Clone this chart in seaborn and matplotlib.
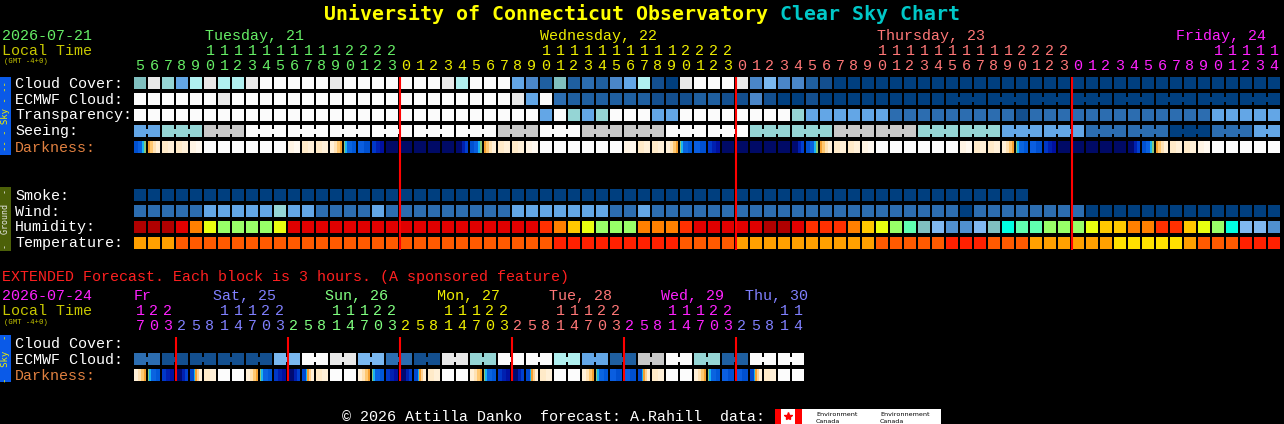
import numpy as np
import matplotlib.pyplot as plt
import seaborn as sns

# ----- Chart data ----- #

# local hour of every column of the hourly chart (Tue 21 05h .. Fri 24 14h)
hours_main = [5, 6, 7, 8, 9, 10, 11, 12, 13, 14, 15, 16, 17, 18, 19, 20, 21, 22, 23,
              0, 1, 2, 3, 4, 5, 6, 7, 8, 9, 10, 11, 12, 13, 14, 15, 16, 17, 18, 19, 20, 21, 22, 23,
              0, 1, 2, 3, 4, 5, 6, 7, 8, 9, 10, 11, 12, 13, 14, 15, 16, 17, 18, 19, 20, 21, 22, 23,
              0, 1, 2, 3, 4, 5, 6, 7, 8, 9, 10, 11, 12, 13, 14]
days_main = ['Tuesday, 21', 'Wednesday, 22', 'Thursday, 23', 'Friday, 24']
days_main_x = [205, 540, 877, 1176]

# local hour of every 3-hour block of the extended chart (Fri 24 17h .. Thu 30 14h)
hours_ext = [17, 20, 23,
             2, 5, 8, 11, 14, 17, 20, 23,
             2, 5, 8, 11, 14, 17, 20, 23,
             2, 5, 8, 11, 14, 17, 20, 23,
             2, 5, 8, 11, 14, 17, 20, 23,
             2, 5, 8, 11, 14, 17, 20, 23,
             2, 5, 8, 11, 14]
days_ext = ['Fr', 'Sat, 25', 'Sun, 26', 'Mon, 27', 'Tue, 28', 'Wed, 29', 'Thu, 30']
days_ext_x = [134, 213, 325, 437, 549, 661, 745]

# sky rows: index into sky_palette
cloud_cover = [7, 10, 8, 5, 9, 10, 9, 9, 10, 11,
               11, 11, 11, 11, 10, 11, 11, 11, 11, 11,
               11, 11, 10, 9, 11, 11, 11, 5, 4, 2,
               7, 2, 3, 2, 4, 5, 9, 1, 0, 10,
               11, 11, 11, 10, 4, 6, 4, 4, 2, 1,
               0, 0, 0, 0, 0, 0, 0, 0, 0, 0,
               0, 0, 0, 0, 0, 0, 0, 0, 0, 0,
               0, 0, 0, 0, 0, 0, 0, 0, 0, 0,
               0, 0]
ecmwf_cloud = [11, 11, 11, 11, 11, 11, 10, 11, 11, 11,
               11, 11, 11, 11, 11, 11, 11, 11, 11, 11,
               11, 11, 11, 11, 11, 11, 11, 10, 5, 11,
               3, 2, 2, 2, 2, 2, 2, 1, 1, 1,
               2, 2, 1, 1, 4, 1, 0, 0, 1, 0,
               0, 0, 0, 0, 0, 0, 0, 0, 0, 0,
               0, 0, 0, 0, 0, 0, 0, 0, 0, 0,
               0, 0, 0, 0, 0, 0, 0, 0, 0, 0,
               0, 0]
transparency = [11, 11, 11, 11, 11, 11, 11, 11, 11, 11,
                11, 11, 11, 11, 11, 11, 11, 11, 11, 11,
                11, 11, 11, 11, 11, 11, 11, 11, 11, 5,
                11, 8, 5, 8, 11, 11, 11, 5, 5, 11,
                11, 11, 11, 11, 11, 11, 11, 8, 5, 5,
                5, 5, 5, 5, 3, 3, 3, 3, 3, 3,
                3, 3, 3, 1, 3, 3, 3, 3, 3, 3,
                3, 3, 3, 3, 3, 3, 3, 5, 5, 5,
                5, 5]
seeing = [5, 5, 8, 8, 8, 12, 12, 12, 11, 11,
          11, 11, 11, 11, 11, 11, 11, 11, 11, 11,
          11, 11, 11, 11, 11, 11, 12, 12, 12, 11,
          11, 11, 12, 12, 12, 12, 12, 12, 11, 11,
          11, 11, 11, 11, 8, 8, 8, 8, 8, 8,
          12, 12, 12, 12, 12, 12, 8, 8, 8, 8,
          8, 8, 5, 5, 5, 5, 5, 5, 3, 3,
          3, 3, 3, 3, 0, 0, 0, 3, 3, 3,
          5, 5]
# darkness: one code per block (see dark_style)
darkness = ("ROccfWWWWWWfccoSbmnnnnnN"
            "ROccfWWWWWWfccoSbmnnnnnN"
            "ROccfWWWWWWfccoSbmnnnnnN"
            "ROccfWWWWW")

# ground rows
smoke = [0, 0, 0, 0, 0, 0, 0, 0, 0, 0,
         0, 0, 0, 0, 0, 0, 0, 0, 0, 0,
         0, 0, 0, 0, 0, 0, 0, 0, 0, 0,
         0, 0, 0, 0, 0, 0, 0, 0, 0, 0,
         0, 0, 0, 0, 0, 0, 0, 0, 0, 0,
         0, 0, 0, 0, 0, 0, 0, 0, 0, 0,
         0, 0, 0, 0]
wind = [3, 3, 3, 3, 3, 5, 5, 5, 5, 5,
        8, 5, 5, 3, 3, 3, 3, 5, 3, 3,
        3, 3, 3, 3, 3, 3, 3, 5, 5, 5,
        5, 5, 5, 5, 3, 3, 5, 3, 3, 3,
        3, 3, 3, 3, 3, 3, 3, 3, 3, 3,
        3, 3, 3, 3, 3, 3, 3, 3, 3, 0,
        3, 3, 3, 3, 3, 3, 3, 3, 0, 0,
        0, 0, 0, 0, 0, 0, 0, 0, 0, 0,
        0, 0]
humidity = [11, 11, 11, 10, 8, 6, 5, 5, 5, 5,
            6, 10, 10, 10, 10, 10, 10, 10, 10, 10,
            10, 10, 10, 10, 10, 10, 10, 10, 10, 9,
            8, 7, 6, 5, 5, 5, 8, 8, 8, 9,
            10, 10, 10, 10, 10, 11, 11, 10, 9, 9,
            9, 8, 7, 6, 5, 4, 2, 1, 0, 0,
            1, 2, 3, 4, 4, 5, 5, 5, 6, 7,
            7, 8, 8, 9, 9, 7, 6, 5, 3, 1,
            1, 0]
temperature = [1, 1, 1, 2, 2, 2, 2, 2, 2, 2,
               2, 2, 2, 2, 2, 2, 2, 2, 2, 2,
               2, 2, 2, 2, 2, 2, 2, 2, 2, 2,
               3, 3, 3, 3, 3, 3, 3, 3, 3, 2,
               2, 2, 2, 1, 1, 1, 1, 1, 1, 1,
               1, 1, 1, 2, 2, 2, 2, 2, 3, 3,
               3, 2, 2, 2, 1, 1, 1, 1, 1, 1,
               0, 0, 0, 0, 0, 1, 2, 2, 2, 3,
               3, 3]

# extended rows (cloud cover row is empty in the picture)
ext_ecmwf = [3, 3, 1, 1, 1, 1, 1, 1, 1, 1, 6, 6, 11, 11, 10, 10,
             6, 6, 3, 3, 1, 1, 10, 10, 8, 8, 11, 11, 11, 11, 9, 9,
             5, 5, 2, 2, 12, 12, 11, 11, 8, 8, 2, 2, 11, 11, 11, 11]
ext_darkness = ("oSmNDcWW" "oSmNDcWW" "oSmNDcWW"
                "oSmNDcWW" "oSbbDcWW" "oSbbDcWW")

# ----- Palettes ----- #
sky_palette = sns.color_palette(['#003f7f', '#134f8f', '#1f5fa0', '#2c6db0', '#4a86c8',
                                 '#63a6e6', '#7ab8f0', '#80c0c0', '#95d5d5', '#b0f0f0',
                                 '#e9e9e9', '#fbfbfb', '#c8c8c8'])
hum_palette = sns.color_palette(['#5090d0', '#80b8f0', '#80c0c0', '#00ffe0', '#60ffb0',
                                 '#98ff68', '#e8ff10', '#ffc800', '#ff8000', '#ff3000',
                                 '#e00000', '#b00000'])
temp_palette = sns.color_palette(['#ffe000', '#ffa000', '#ff5a00', '#ff2000'])

# each darkness code as thin vertical stripes (colour, width px), 12 px per block
dark_style = {
    'W': [('#fcfcfc', 12)],
    'f': [('#fff4e4', 6), ('#fff9f0', 6)],
    'c': [('#ffeac8', 6), ('#fff0d8', 6)],
    'o': [('#fff0d8', 4), ('#ffe2b4', 3), ('#ffc870', 3), ('#f5a030', 2)],
    'O': [('#f5a030', 2), ('#ffc870', 3), ('#ffe2b4', 3), ('#fff0d8', 4)],
    'S': [('#88c878', 1), ('#18b4f0', 2), ('#0a64e0', 5), ('#0058d8', 4)],
    'R': [('#0050d0', 4), ('#0a60e0', 4), ('#18b4f0', 2), ('#88c878', 2)],
    'b': [('#0a5ee0', 6), ('#0050d0', 6)],
    'm': [('#0038c8', 4), ('#0020b0', 4), ('#0010a0', 4)],
    'n': [('#000a66', 12)],
    'N': [('#000a70', 6), ('#0020b0', 3), ('#0040d0', 3)],
    'D': [('#0048d0', 4), ('#18b4f0', 1), ('#f5a030', 2), ('#ffd090', 2), ('#fff0d8', 3)],
}

main_day_colors = ['#66ee66', '#eeee00', '#ff7777', '#ff22ff']
ext_day_colors = ['#ff22ff', '#8080ff', '#80ff80', '#eeee00', '#ff7777', '#ff22ff', '#8080ff']

# ----- Layout (pixels) ----- #
X0, STEP, BLOCK = 134, 14, 12
MONO = 'Liberation Mono'
LBL = 10.8

sns.set_theme(style="dark", rc={'figure.facecolor': 'black', 'axes.facecolor': 'black'})
plt.rcParams['font.family'] = [MONO, 'DejaVu Sans']

fig = plt.figure(figsize=(12.84, 4.24), dpi=100)
ax = fig.add_axes([0, 0, 1, 1])
ax.set_xlim(0, 1284)
ax.set_ylim(424, 0)
ax.axis('off')


def txt(x, y, s, color, size=LBL, **kw):
    ax.text(x, y, s, color=color, fontsize=size, va='baseline', family=[MONO, 'DejaVu Sans'], **kw)


def day_index(hours):
    idx, d = [], 0
    for i, h in enumerate(hours):
        if i > 0 and h < hours[i - 1]:
            d += 1
        idx.append(d)
    return np.array(idx)


def draw_blocks(values, palette, top, groups=None):
    xs = X0 + STEP * np.arange(len(values))
    colors = [palette[v] for v in values]
    ax.bar(xs, BLOCK, width=BLOCK, bottom=top, align='edge', color=colors,
           linewidth=0, antialiased=False)
    if groups is not None:
        for k in range(len(values) - 1):
            if groups[k] is not None and groups[k] == groups[k + 1]:
                ax.bar(xs[k] + BLOCK, 5, width=STEP - BLOCK, bottom=top + 3.5, align='edge',
                       color=colors[k], linewidth=0, antialiased=False)


def draw_darkness(codes, top):
    lefts, widths, colors = [], [], []
    for k, code in enumerate(codes):
        x = X0 + STEP * k
        for color, w in dark_style[code]:
            lefts.append(x)
            widths.append(w)
            colors.append(color)
            x += w
    ax.bar(lefts, BLOCK, width=widths, bottom=top, align='edge', color=colors,
           linewidth=0, antialiased=False)


def hour_labels(hours, days, colors, y_tens, y_units):
    for k, h in enumerate(hours):
        xc = X0 + STEP * k + 6
        c = colors[days[k]]
        if h >= 10:
            txt(xc, y_tens, str(h // 10), c, ha='center')
        txt(xc, y_units, str(h % 10), c, ha='center')


def side_bar(top, bottom, color, label, text_color, size):
    ax.bar(0, bottom - top, width=11, bottom=top, align='edge', color=color, linewidth=0)
    ax.text(5.5, (top + bottom) / 2, label, color=text_color, fontsize=size, rotation=90,
            ha='center', va='center', family='DejaVu Sans Mono')


# ----- Title ----- #
ax.text(324, 19.5, 'University of Connecticut Observatory', color='#ffff00', fontsize=14.3,
        fontweight='bold', va='baseline', family='DejaVu Sans Mono')
ax.text(780, 19.5, 'Clear Sky Chart', color='#00c8c8', fontsize=14.3,
        fontweight='bold', va='baseline', family='DejaVu Sans Mono')

# ----- Hourly chart header ----- #
day_main = day_index(hours_main)
txt(2, 40, '2026-07-21', main_day_colors[0])
txt(2, 55, 'Local Time', '#c8c800')
txt(4, 63, '(GMT -4+0)', '#c8c800', size=5.2)
for name, x, c in zip(days_main, days_main_x, main_day_colors):
    txt(x, 40, name, c)
hour_labels(hours_main, day_main, main_day_colors, 55, 70)

# ----- Sky rows ----- #
abs_main = day_main * 24 + np.array(hours_main)
seeing_groups = list((abs_main - 1) // 3)
ecmwf_groups = [g if k >= 58 else None for k, g in enumerate(abs_main // 3)]

sky_tops = [77, 93, 109, 125, 141]
draw_blocks(cloud_cover, sky_palette, sky_tops[0])
draw_blocks(ecmwf_cloud, sky_palette, sky_tops[1], ecmwf_groups)
draw_blocks(transparency, sky_palette, sky_tops[2])
draw_blocks(seeing, sky_palette, sky_tops[3], seeing_groups)
draw_darkness(darkness, sky_tops[4])

for lab, top in zip(['Cloud Cover:', 'ECMWF Cloud:', 'Transparency:', 'Seeing:'], sky_tops):
    txt(15, top + 10.5, lab, 'white')
txt(15, sky_tops[4] + 10.5, 'Darkness:', '#e08040')
side_bar(77, 155, '#0a5ae8', '-- - Sky - --', '#f0f000', 6.5)

# ----- Ground rows ----- #
ground_tops = [189, 205, 221, 237]
draw_blocks(smoke, sky_palette, ground_tops[0])
draw_blocks(wind, sky_palette, ground_tops[1])
draw_blocks(humidity, hum_palette, ground_tops[2])
draw_blocks(temperature, temp_palette, ground_tops[3])
for lab, top in zip(['Smoke:', 'Wind:', 'Humidity:', 'Temperature:'], ground_tops):
    txt(15, top + 10.5, lab, 'white')
side_bar(187, 251, '#4c6008', '-  Ground  -', '#e8e8e8', 6)

# midnight markers
new_day = [X0 + STEP * k for k in range(1, len(hours_main)) if day_main[k] != day_main[k - 1]]
ax.vlines(new_day, 77, 250, color='#ff0000', linewidth=1.5)

# ----- Extended forecast ----- #
day_ext = day_index(hours_ext)
txt(2, 281, 'EXTENDED Forecast. Each block is 3 hours. (A sponsored feature)', '#ff2020')
txt(2, 300, '2026-07-24', ext_day_colors[0])
txt(2, 315, 'Local Time', '#c8c800')
txt(4, 324.5, '(GMT -4+0)', '#c8c800', size=5.2)
for name, x, c in zip(days_ext, days_ext_x, ext_day_colors):
    txt(x, 300, name, c)
hour_labels(hours_ext, day_ext, ext_day_colors, 315, 330)

ext_tops = [337, 353, 369]
draw_blocks(ext_ecmwf, sky_palette, ext_tops[1], list(np.arange(len(ext_ecmwf)) // 2))
draw_darkness(ext_darkness, ext_tops[2])
txt(15, ext_tops[0] + 10.5, 'Cloud Cover:', 'white')
txt(15, ext_tops[1] + 10.5, 'ECMWF Cloud:', 'white')
txt(15, ext_tops[2] + 10.5, 'Darkness:', '#e08040')
side_bar(335, 382, '#0a5ae8', '-  Sky  -', '#f0f000', 6.5)

ext_new_day = [X0 + STEP * k for k in range(1, len(hours_ext)) if day_ext[k] != day_ext[k - 1]]
ax.vlines(ext_new_day, 337, 381, color='#ff0000', linewidth=1.5)

# ----- Footer ----- #
txt(342, 421, '\u00a9 2026 Attilla Danko  forecast: A.Rahill  data:', 'white')
ax.bar([775, 781, 795, 802], 15, width=[6, 14, 7, 139], bottom=409, align='edge',
       color=['#ff0000', 'white', '#ff0000', 'white'], linewidth=0)
ax.plot(788, 416, marker='*', color='#ff0000', markersize=6)
for x, s in [(816, 'Environment'), (880, 'Environnement')]:
    ax.text(x, 416, s, color='black', fontsize=4.6, va='baseline', family='DejaVu Sans')
    ax.text(x, 423, 'Canada', color='black', fontsize=4.6, va='baseline', family='DejaVu Sans')

fig.savefig('out.png', dpi=100, facecolor='black')
